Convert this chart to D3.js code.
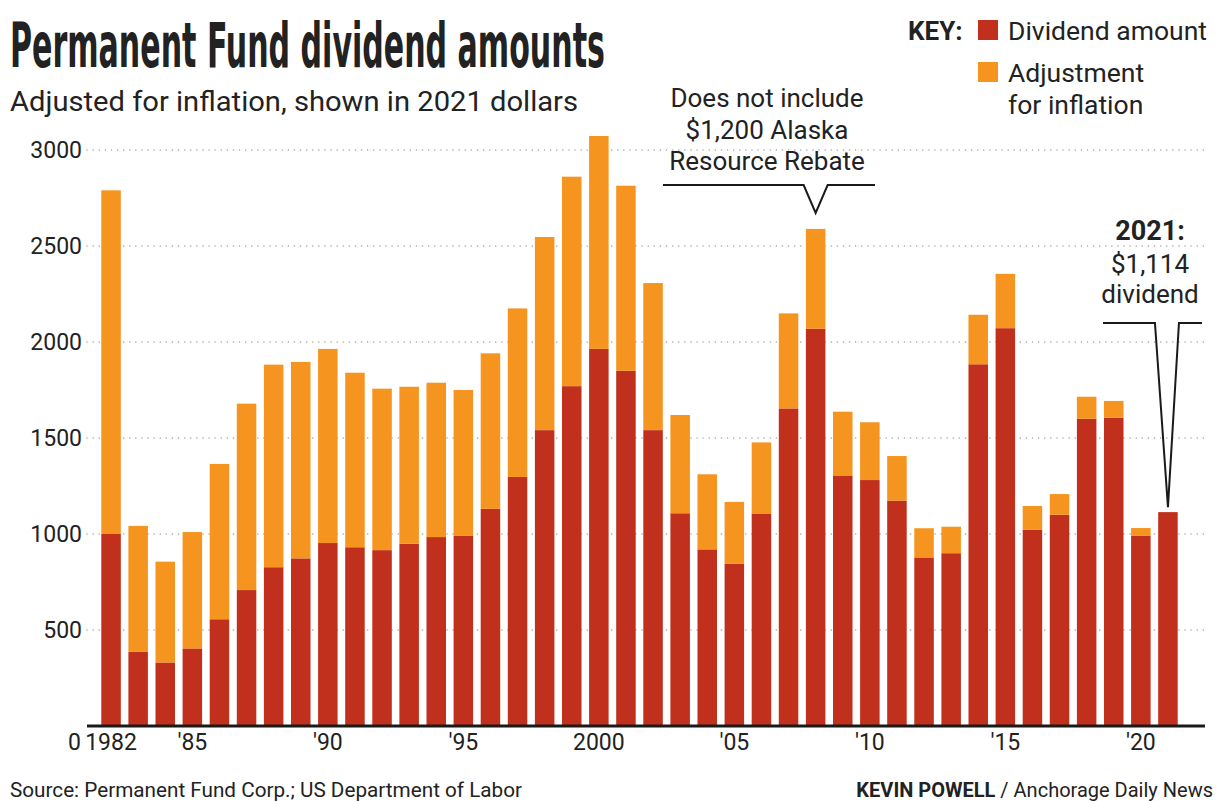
<!DOCTYPE html>
<html>
<head>
<meta charset="utf-8">
<script src="https://cdn.jsdelivr.net/npm/d3@7"></script>
<style>
  body { margin: 0; background: #fff; }
  text { font-family: Roboto, "Liberation Sans", sans-serif; fill: #222; }
</style>
</head>
<body>
<script>
// data (2021 dollars)
const years = [1982, 1983, 1984, 1985, 1986, 1987, 1988, 1989, 1990, 1991,
  1992, 1993, 1994, 1995, 1996, 1997, 1998, 1999, 2000, 2001,
  2002, 2003, 2004, 2005, 2006, 2007, 2008, 2009, 2010, 2011,
  2012, 2013, 2014, 2015, 2016, 2017, 2018, 2019, 2020, 2021];
const dividend = [1000, 386, 331, 404, 556, 708, 827, 873, 953, 931,
  916, 949, 984, 990, 1131, 1297, 1541, 1770, 1964, 1850,
  1541, 1108, 920, 846, 1107, 1654, 2069, 1305, 1281, 1174,
  878, 900, 1884, 2072, 1022, 1100, 1600, 1606, 992, 1114];
const adjustment = [1790, 656, 525, 606, 809, 971, 1055, 1023, 1011, 909,
  841, 818, 804, 760, 810, 878, 1006, 1091, 1109, 964,
  766, 512, 391, 321, 370, 495, 520, 332, 301, 232,
  152, 138, 258, 283, 124, 108, 115, 87, 39, 0];
const yTicks = [500, 1000, 1500, 2000, 2500, 3000];
const xTickYears = [1982, 1985, 1990, 1995, 2000, 2005, 2010, 2015, 2020];
const xTickLabels = ["1982", "'85", "'90", "'95", "2000", "'05", "'10", "'15", "'20"];
const colors = {dividend: "#c1301c", adjustment: "#f5941f"};

const width = 1218, height = 801;

const svg = d3.select("body").append("svg")
  .attr("width", width)
  .attr("height", height);

const rows = years.map((yr, i) => ({year: yr, dividend: dividend[i], adjustment: adjustment[i]}));
const series = d3.stack().keys(["dividend", "adjustment"])(rows);

const x = d3.scaleBand()
  .domain(years)
  .range([97.5, 1181.5])
  .paddingInner(0.28)
  .paddingOuter(0.14);

const y = d3.scaleLinear()
  .domain([0, 3000])
  .range([726, 150]);

// dotted grid
svg.append("g")
  .selectAll("line")
  .data(yTicks)
  .join("line")
  .attr("x1", 87)
  .attr("x2", 1205)
  .attr("y1", d => y(d))
  .attr("y2", d => y(d))
  .attr("stroke", "#a8a8a8")
  .attr("stroke-width", 1.5)
  .attr("stroke-linecap", "round")
  .attr("stroke-dasharray", "0.1,6");

// y labels
const yAxis = svg.append("g")
  .attr("transform", "translate(87,0)")
  .call(d3.axisLeft(y).tickValues(yTicks).tickFormat(d3.format("d")).tickSize(0).tickPadding(5));
yAxis.select(".domain").remove();
yAxis.selectAll("text")
  .style("font-size", "23px")
  .style("font-family", "Roboto, 'Liberation Sans', sans-serif")
  .attr("fill", "#222");

svg.append("text")
  .attr("x", 81)
  .attr("y", y(0) + 24)
  .attr("text-anchor", "end")
  .style("font-size", "23px")
  .text("0");

// stacked bars
svg.append("g")
  .selectAll("g")
  .data(series)
  .join("g")
  .attr("fill", d => colors[d.key])
  .selectAll("rect")
  .data(d => d)
  .join("rect")
  .attr("x", d => x(d.data.year))
  .attr("y", d => y(d[1]))
  .attr("width", x.bandwidth())
  .attr("height", d => y(d[0]) - y(d[1]));

// baseline
svg.append("line")
  .attr("x1", 87)
  .attr("x2", 1205)
  .attr("y1", y(0))
  .attr("y2", y(0))
  .attr("stroke", "#1a1a1a")
  .attr("stroke-width", 3);

// x labels
const xAxis = svg.append("g")
  .attr("transform", "translate(0," + y(0) + ")")
  .call(d3.axisBottom(x)
    .tickValues(xTickYears)
    .tickFormat((d, i) => xTickLabels[i])
    .tickSize(0)
    .tickPadding(8));
xAxis.select(".domain").remove();
xAxis.selectAll("text")
  .style("font-size", "23px")
  .style("font-family", "Roboto, 'Liberation Sans', sans-serif")
  .attr("fill", "#222");

// title (squeezed to the condensed width of the original) + subtitle
const title = svg.append("text")
  .style("font-family", "'Liberation Sans Narrow', 'DejaVu Sans Condensed', sans-serif")
  .style("font-weight", "bold")
  .style("font-size", "62px")
  .attr("fill", "#1a1a1a")
  .text("Permanent Fund dividend amounts");
const titleW = title.node().getComputedTextLength();
title.attr("transform", `translate(10,67) scale(${595 / titleW},1)`);

svg.append("text")
  .attr("x", 10)
  .attr("y", 111)
  .attr("textLength", 568)
  .attr("lengthAdjust", "spacingAndGlyphs")
  .style("font-size", "27px")
  .text("Adjusted for inflation, shown in 2021 dollars");

// key
svg.append("text")
  .attr("x", 908)
  .attr("y", 40)
  .style("font-size", "26px")
  .style("font-weight", "bold")
  .text("KEY:");

const keys = [
  {key: "dividend", lines: ["Dividend amount"], top: 20},
  {key: "adjustment", lines: ["Adjustment", "for inflation"], top: 62}
];
keys.forEach(k => {
  svg.append("rect")
    .attr("x", 978)
    .attr("y", k.top)
    .attr("width", 20)
    .attr("height", 20)
    .attr("fill", colors[k.key]);
  k.lines.forEach((t, j) => {
    svg.append("text")
      .attr("x", 1008)
      .attr("y", k.top + 20 + j * 32)
      .style("font-size", "26.5px")
      .text(t);
  });
});

// annotation: 2008 rebate
const cx08 = x(2008) + x.bandwidth() / 2;
const top08 = y(dividend[26] + adjustment[26]) - 16;
["Does not include", "$1,200 Alaska", "Resource Rebate"].forEach((t, i) => {
  svg.append("text")
    .attr("x", 767)
    .attr("y", 107 + i * 31.5)
    .attr("text-anchor", "middle")
    .style("font-size", "26px")
    .text(t);
});
svg.append("path")
  .attr("d", `M663,185H${cx08 - 12}L${cx08},${top08}L${cx08 + 12},185H875`)
  .attr("fill", "none")
  .attr("stroke", "#1a1a1a")
  .attr("stroke-width", 2);

// annotation: 2021
const cx21 = x(2021) + x.bandwidth() / 2;
const top21 = y(dividend[39] + adjustment[39]) - 5;
svg.append("text")
  .attr("x", 1150)
  .attr("y", 240)
  .attr("text-anchor", "middle")
  .style("font-size", "27px")
  .style("font-weight", "bold")
  .text("2021:");
["$1,114", "dividend"].forEach((t, i) => {
  svg.append("text")
    .attr("x", 1150)
    .attr("y", 273 + i * 30)
    .attr("text-anchor", "middle")
    .style("font-size", "26px")
    .text(t);
});
svg.append("path")
  .attr("d", `M1103,323H${cx21 - 13}L${cx21},${top21}L${cx21 + 11},323H1202`)
  .attr("fill", "none")
  .attr("stroke", "#1a1a1a")
  .attr("stroke-width", 2);

// footer
svg.append("text")
  .attr("x", 10)
  .attr("y", 797)
  .attr("textLength", 512)
  .attr("lengthAdjust", "spacingAndGlyphs")
  .style("font-size", "21px")
  .text("Source: Permanent Fund Corp.; US Department of Labor");

const credit = svg.append("text")
  .attr("x", 1213)
  .attr("y", 797)
  .attr("text-anchor", "end")
  .style("font-size", "20px");
credit.append("tspan").style("font-weight", "bold").text("KEVIN POWELL");
credit.append("tspan").text(" / Anchorage Daily News");
</script>
</body>
</html>
